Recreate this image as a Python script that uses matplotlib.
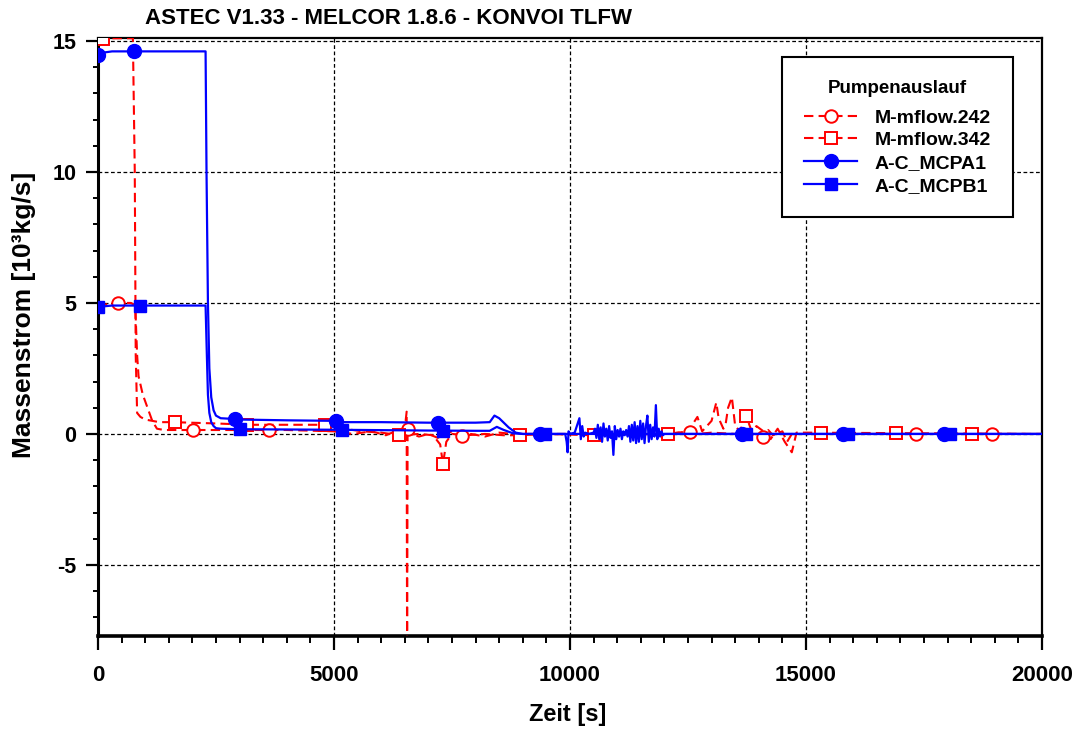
import matplotlib
matplotlib.use("Agg")
import matplotlib.pyplot as plt
import numpy as np
from matplotlib.lines import Line2D
from matplotlib.ticker import MultipleLocator

plt.rcParams['font.family'] = ['Liberation Sans', 'DejaVu Sans']
plt.rcParams['font.weight'] = 'bold'

title = "ASTEC V1.33 - MELCOR 1.8.6 - KONVOI TLFW"
xlabel = "Zeit [s]"
ylabel = "Massenstrom [10³kg/s]"
legend_title = "Pumpenauslauf"
names = ["M-mflow.242", "M-mflow.342", "A-C_MCPA1", "A-C_MCPB1"]

# M-mflow.242 (red dashed, open circles)
t242 = [0, 200, 400, 700, 790, 830, 860, 950, 1050, 1150, 1250, 1400, 1700, 2000, 3000,
        4000, 5000, 5400, 5800, 6100, 6300, 6450, 6500, 6540, 6550, 6560, 6570, 6650,
        6800, 7000, 7200, 7500, 7700, 7900, 8200, 8500, 8800, 9000, 10000, 12000, 12300,
        12500, 12700, 13000, 13500, 13800, 14000, 14100, 14200, 14300, 14500, 14600,
        14700, 14800, 15000, 20000]
v242 = [4.9, 4.95, 5.0, 5.0, 4.9, 3.0, 2.2, 1.5, 1.0, 0.5, 0.2, 0.15, 0.15, 0.15, 0.15,
        0.15, 0.1, 0.0, 0.1, -0.05, 0.1, 0.2, 0.2, 0.85, -9.0, 0.3, 0.2, 0.0,
        -0.1, 0.0, -0.15, 0.1, -0.1, 0.0, -0.1, 0.05, 0.0, 0.0, 0.0, 0.0, 0.05,
        0.1, 0.0, 0.05, 0.0, 0.1, -0.2, -0.1, 0.15, -0.05, 0.1, -0.3,
        0.0, 0.0, 0.0, 0.0]
m242 = [430, 2010, 3620, 6570, 7710, 12540, 14090, 17330, 18940]

# M-mflow.342 (red dashed, open squares)
t342 = [0, 300, 600, 740, 780, 800, 830, 900, 1000, 1150, 1300, 1600, 2500, 3200,
        4000, 4800, 5200, 5600, 6000, 6400, 6800, 7100, 7250, 7310, 7380, 7500, 7800,
        8200, 8600, 8940, 9500, 10500, 12080, 12500, 12700, 12800, 12900, 13000, 13100,
        13150, 13250, 13300, 13350, 13430, 13500, 13600, 13730, 13850, 13950, 14100,
        14250, 14400, 14550, 14700, 14800, 15000, 20000]
v342 = [15.05, 15.1, 15.1, 15.1, 10.0, 3.0, 0.8, 0.65, 0.55, 0.5, 0.45, 0.45, 0.4, 0.35,
        0.35, 0.35, 0.2, 0.1, 0.05, -0.05, 0.0, -0.05, -0.4, -1.15, -0.3, 0.0, -0.05,
        0.0, -0.05, -0.05, 0.0, -0.05, 0.0, 0.1, 0.65, 0.1, 0.3, 0.5, 1.2,
        0.6, 0.2, 0.4, 1.0, 1.4, 0.3, 0.1, 0.7, 0.1, 0.3, 0.1,
        -0.2, 0.2, -0.3, -0.7, 0.05, 0.05, 0.0]
m342 = [100, 1630, 3160, 4810, 6370, 7310, 8940, 10510, 12080, 13730, 15320, 16910, 18520]

# A-C_MCPA1 (blue solid, filled circles)
tA = [0, 100, 300, 600, 2280, 2300, 2330, 2360, 2400, 2450, 2500, 2600, 2800, 3000,
      4000, 5000, 5200, 6000, 7000, 8000, 8300, 8400, 8500, 8700, 8850, 9000, 9500,
      9900, 9930, 9950, 9970, 10000, 10100, 10200, 10230, 10260, 10290, 10320, 10400,
      10500, 10530, 10560, 10590, 10620, 10650, 10680, 10710, 10740, 10770, 10800,
      10830, 10860, 10890, 10920, 10950, 10980, 11010, 11040, 11070, 11100, 11130,
      11160, 11190, 11220, 11250, 11280, 11310, 11340, 11370, 11400, 11430, 11460,
      11490, 11520, 11550, 11580, 11610, 11640, 11670, 11700, 11730, 11760, 11790,
      11820, 11850, 11880, 11910, 11940, 11970, 12000, 12050, 20000]
vA = [14.45, 14.55, 14.6, 14.6, 14.6, 10.0, 5.0, 2.5, 1.4, 0.9, 0.7, 0.6, 0.58, 0.55,
      0.52, 0.5, 0.45, 0.45, 0.43, 0.43, 0.45, 0.7, 0.6, 0.25, 0.05, 0.0, 0.0,
      0.0, -0.3, -0.7, 0.1, 0.0, 0.05, 0.6, -0.2, 0.3, -0.1, 0.05, 0.0,
      0.05, 0.2, -0.15, 0.35, -0.2, 0.25, -0.3, 0.4, -0.1, 0.2, -0.25,
      0.3, -0.15, 0.1, -0.8, 0.3, -0.2, 0.15, -0.1, 0.2, -0.2, 0.1,
      -0.05, 0.15, -0.1, 0.3, -0.3, 0.35, -0.25, 0.45, -0.35, 0.3, -0.3,
      0.5, -0.2, 0.4, -0.35, 0.3, 0.7, -0.3, 0.35, -0.2, 0.25, -0.1,
      1.1, -0.2, 0.2, -0.1, 0.1, -0.05, 0.0, 0.0, 0.0]
mA = [0, 760, 2900, 5040, 7200, 9360, 13640, 15780, 17920]

# A-C_MCPB1 (blue solid, filled squares)
tB = [0, 300, 600, 2280, 2300, 2330, 2360, 2400, 2450, 2500, 2600, 3000, 5000, 7000,
      8000, 8300, 8450, 8600, 8800, 9000, 20000]
vB = [4.85, 4.9, 4.9, 4.9, 3.5, 1.5, 0.8, 0.45, 0.3, 0.22, 0.2, 0.18, 0.16, 0.13,
      0.12, 0.12, 0.27, 0.15, 0.02, 0.0, 0.0]
mB = [0, 890, 3000, 5170, 7310, 9470, 13730, 15890, 18050]

red = '#ff0000'
blue = '#0000ff'

fig = plt.figure(figsize=(10.8, 7.31), dpi=100)
ax = fig.add_axes([0.0907, 0.130, 0.8741, 0.818])

dash = (4.5, 2.5)
ax.plot(t242, v242, color=red, lw=1.5, dashes=dash, zorder=3)
ax.plot(m242, np.interp(m242, t242, v242), ls='none', marker='o', ms=9,
        mfc='white', mec=red, mew=1.4, zorder=4)
ax.plot(t342, v342, color=red, lw=1.5, dashes=dash, zorder=3)
ax.plot(m342, np.interp(m342, t342, v342), ls='none', marker='s', ms=8,
        mfc='white', mec=red, mew=1.4, zorder=4)
ax.plot(tA, vA, color=blue, lw=1.6, zorder=5)
ax.plot(mA, np.interp(mA, tA, vA), ls='none', marker='o', ms=10,
        mfc=blue, mec=blue, zorder=6)
ax.plot(tB, vB, color=blue, lw=1.6, zorder=5)
ax.plot(mB, np.interp(mB, tB, vB), ls='none', marker='s', ms=8.5,
        mfc=blue, mec=blue, zorder=6)

ax.set_xlim(0, 20000)
ax.set_ylim(-7.71, 15.11)
ax.xaxis.set_major_locator(MultipleLocator(5000))
ax.xaxis.set_minor_locator(MultipleLocator(500))
ax.yaxis.set_major_locator(MultipleLocator(5))
ax.yaxis.set_minor_locator(MultipleLocator(1))
ax.grid(True, which='major', color='black', ls=(0, (3, 2)), lw=0.9)

ax.tick_params(axis='x', which='major', direction='out', length=10, width=1.6,
               labelsize=16, pad=11)
ax.tick_params(axis='y', which='major', direction='out', length=8.6, width=1.6,
               labelsize=15.5, pad=7)
ax.tick_params(axis='x', which='minor', direction='out', length=5, width=1.4)
ax.tick_params(axis='y', which='minor', direction='out', length=3.6, width=1.4)
ax.set_yticks([-5, 0, 5, 10, 15])
ax.set_yticklabels(['-5', '0', '5', '10', '15'])
for lbl in ax.get_xticklabels() + ax.get_yticklabels():
    lbl.set_fontweight('bold')

for s in ['top', 'right']:
    ax.spines[s].set_linewidth(1.6)
ax.spines['left'].set_linewidth(2.2)
ax.spines['bottom'].set_linewidth(2.6)

ax.set_xlabel(xlabel, fontsize=17, fontweight='bold')
ax.set_ylabel(ylabel, fontsize=19, fontweight='bold')
ax.xaxis.label.set_va('center')
ax.yaxis.label.set_va('center')
ax.xaxis.set_label_coords(0.498, -0.132)
ax.yaxis.set_label_coords(-0.0785, 0.537)

fig.text(0.134, 0.975, title, fontsize=16, fontweight='bold', ha='left', va='center')

handles = [
    Line2D([], [], color=red, lw=1.5, dashes=dash, marker='o', ms=9, mfc='white', mec=red, mew=1.4),
    Line2D([], [], color=red, lw=1.5, dashes=dash, marker='s', ms=8, mfc='white', mec=red, mew=1.4),
    Line2D([], [], color=blue, lw=1.6, marker='o', ms=10, mfc=blue, mec=blue),
    Line2D([], [], color=blue, lw=1.6, marker='s', ms=8.5, mfc=blue, mec=blue),
]
leg = ax.legend(handles, names, title=legend_title, loc='upper right',
                bbox_to_anchor=(0.9693, 0.968), fancybox=False, framealpha=1,
                edgecolor='black', prop={'weight': 'bold', 'size': 14},
                title_fontproperties={'weight': 'bold', 'size': 13.5},
                handlelength=2.7, borderpad=1.15, labelspacing=0.26,
                handletextpad=0.9, borderaxespad=0)
leg._legend_box.sep = 9
leg.get_frame().set_linewidth(1.5)
leg.set_zorder(10)

fig.savefig('out.png', dpi=100)
